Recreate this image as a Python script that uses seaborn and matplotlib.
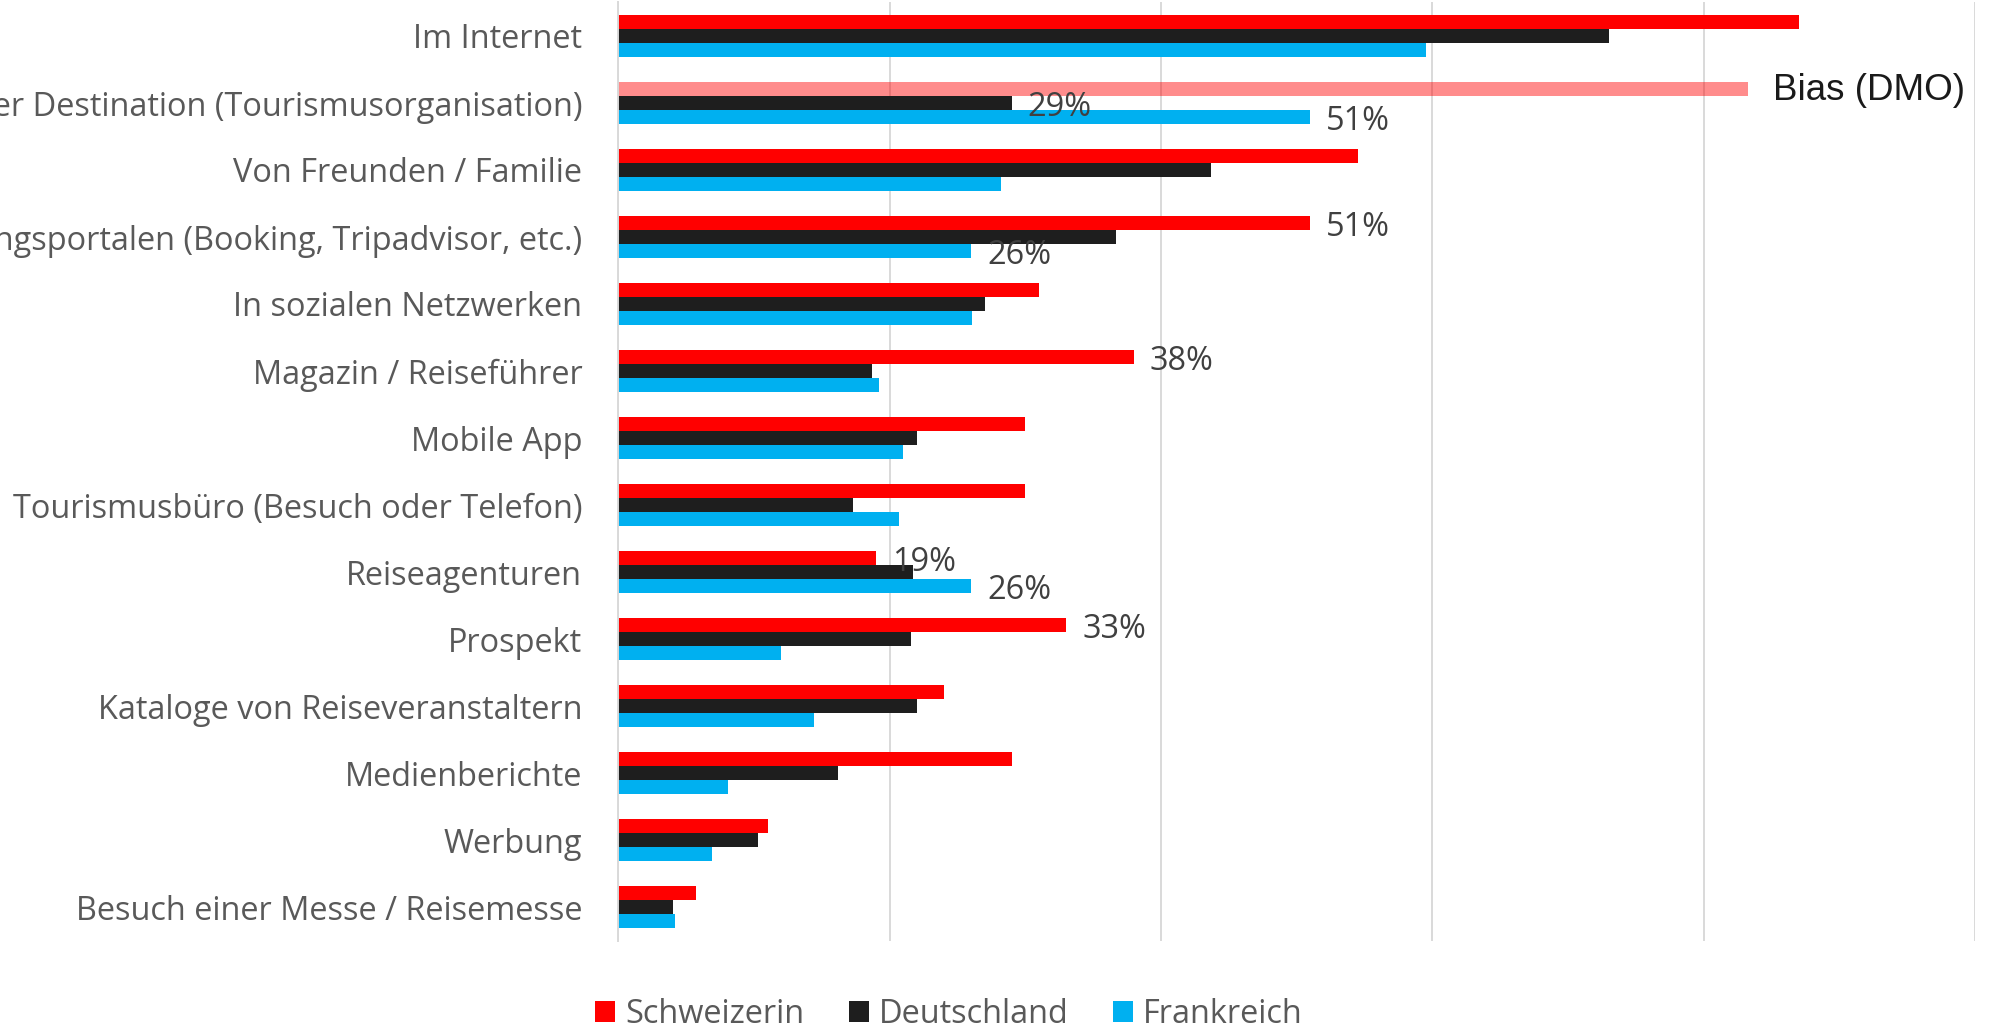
import matplotlib
matplotlib.use("Agg")
import matplotlib.pyplot as plt
import pandas as pd
import seaborn as sns

# Informationsquellen bei der Reiseplanung (Anteil in %)
kategorien = [
    "Im Internet",
    "Auf der Website der Destination (Tourismusorganisation)",
    "Von Freunden / Familie",
    "Auf Buchungsportalen (Booking, Tripadvisor, etc.)",
    "In sozialen Netzwerken",
    "Magazin / Reiseführer",
    "Mobile App",
    "Tourismusbüro (Besuch oder Telefon)",
    "Reiseagenturen",
    "Prospekt",
    "Kataloge von Reiseveranstaltern",
    "Medienberichte",
    "Werbung",
    "Besuch einer Messe / Reisemesse",
]
laender = ["Schweizerin", "Deutschland", "Frankreich"]

schweizerin = [87, 83.3, 54.5, 51, 31, 38, 30, 30, 19, 33, 24, 29, 11, 5.7]
deutschland = [73, 29, 43.7, 36.7, 27, 18.7, 22, 17.3, 21.7, 21.6, 22, 16.2, 10.3, 4]
frankreich = [59.5, 51, 28.2, 26, 26.1, 19.2, 21, 20.7, 26, 12, 14.4, 8.1, 6.9, 4.2]

# Balken mit Wertbeschriftung: (Kategorie, Land)
beschriftet = [
    ("Auf der Website der Destination (Tourismusorganisation)", "Deutschland"),
    ("Auf der Website der Destination (Tourismusorganisation)", "Frankreich"),
    ("Auf Buchungsportalen (Booking, Tripadvisor, etc.)", "Schweizerin"),
    ("Auf Buchungsportalen (Booking, Tripadvisor, etc.)", "Frankreich"),
    ("Magazin / Reiseführer", "Schweizerin"),
    ("Reiseagenturen", "Schweizerin"),
    ("Reiseagenturen", "Frankreich"),
    ("Prospekt", "Schweizerin"),
]
bias_kategorie = "Auf der Website der Destination (Tourismusorganisation)"
bias_land = "Schweizerin"
bias_text = "Bias (DMO)"

farben = {"Schweizerin": "#FF0000", "Deutschland": "#1E1E1E", "Frankreich": "#00B0F0"}

werte = {"Schweizerin": schweizerin, "Deutschland": deutschland, "Frankreich": frankreich}
df = pd.DataFrame(
    [(k, land, werte[land][i]) for land in laender for i, k in enumerate(kategorien)],
    columns=["Kategorie", "Land", "Anteil"],
)

sns.set_style("white")
plt.rcParams["font.family"] = ["Open Sans", "DejaVu Sans"]

schrift = 23.4

fig = plt.figure(figsize=(19.91, 10.31), dpi=100)
ax = fig.add_axes([0.3106, 0.0876, 0.6813, 0.9101])

sns.barplot(
    data=df, y="Kategorie", x="Anteil", hue="Land",
    order=kategorien, hue_order=laender, palette=farben,
    orient="h", width=0.63, saturation=1, linewidth=0,
    errorbar=None, ax=ax,
)

ax.set_xlim(0, 100)
ax.set_ylim(len(kategorien) - 0.5, -0.5)
ax.set_xticks(range(0, 101, 20))
ax.set_xticklabels([])
ax.set_axisbelow(True)
ax.grid(axis="x", color="#D9D9D9", linewidth=1.4)
ax.grid(axis="y", visible=False)
for s in ["top", "right", "bottom"]:
    ax.spines[s].set_visible(False)
ax.spines["left"].set_color("#D9D9D9")
ax.spines["left"].set_linewidth(1.4)
ax.tick_params(axis="both", length=0)
ax.tick_params(axis="y", pad=26, labelsize=schrift, labelcolor="#595959")
ax.set_xlabel("")
ax.set_ylabel("")

# Ergebnisse der Schweizer Befragung auf der DMO-Website: Bias hervorheben
balken = {land: list(ax.containers[j]) for j, land in enumerate(laender)}
bias_bar = balken[bias_land][kategorien.index(bias_kategorie)]
bias_bar.set_facecolor((1.0, 0.0, 0.0, 0.45))
bias_wert = werte[bias_land][kategorien.index(bias_kategorie)]
ax.annotate(
    bias_text,
    xy=(bias_wert, bias_bar.get_y() + bias_bar.get_height() / 2),
    xytext=(18, -1), textcoords="offset points",
    ha="left", va="center", fontsize=26.5, color="#1A1A1A",
    family=["Liberation Sans", "DejaVu Sans"],
)

# Wertbeschriftungen
for kat, land in beschriftet:
    i = kategorien.index(kat)
    bar = balken[land][i]
    wert = werte[land][i]
    ax.annotate(
        f"{wert:.0f}%",
        xy=(wert, bar.get_y() + bar.get_height() / 2),
        xytext=(11.5, -3), textcoords="offset points",
        ha="left", va="center", fontsize=schrift, color="#404040",
    )

handles, labels = ax.get_legend_handles_labels()
ax.get_legend().remove()
fig.legend(
    handles, labels, loc="center", bbox_to_anchor=(0.4767, 0.016),
    ncol=3, frameon=False, fontsize=schrift, labelcolor="#595959",
    handlelength=0.62, handleheight=0.62, handletextpad=0.32,
    columnspacing=1.35, borderaxespad=0, borderpad=0,
)

fig.savefig("out.png", dpi=100)
